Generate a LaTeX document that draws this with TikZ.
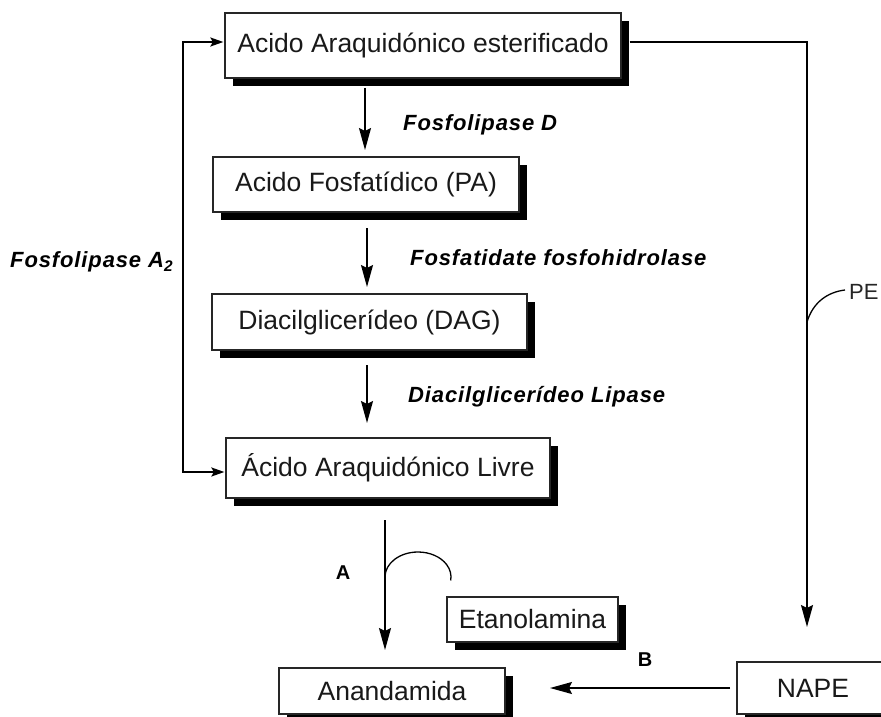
\documentclass[tikz,border=0pt]{standalone}
\usepackage{fontspec}
\setmainfont{Liberation Sans}
\usetikzlibrary{arrows.meta,shadows}
\begin{document}
\begin{tikzpicture}[x=1pt,y=-1pt,
  box/.style={draw=black!85, line width=1.3pt, fill=white, inner sep=0pt,
    text=black!90, font=\fontsize{26.5}{30}\selectfont,
    drop shadow={shadow xshift=8pt, shadow yshift=-8pt, fill=black, opacity=1}},
  enz/.style={anchor=west, inner sep=0pt,
    font=\fontsize{22}{26}\selectfont\bfseries\itshape\addfontfeatures{LetterSpace=4}},
  tag/.style={inner sep=0pt, font=\fontsize{20}{24}\selectfont\bfseries},
  conn/.style={line width=1.7pt, draw=black},
  arr/.style={conn, -{Stealth[length=22pt,width=12pt,inset=3pt]}},
  sarr/.style={conn, {Stealth[length=13pt,width=9pt,inset=2.5pt]}-{Stealth[length=13pt,width=9pt,inset=2.5pt]}}
]
\useasboundingbox (0,0) rectangle (881,717);
\clip (0,0) rectangle (881,717);

% boxes
\node[box, minimum width=396pt, minimum height=65pt] (b1) at (423,45.5) {Acido Araquidónico esterificado};
\node[box, minimum width=306pt, minimum height=55pt] (b2) at (366,184.5) {Acido Fosfatídico (PA)};
\node[box, minimum width=315pt, minimum height=56pt] (b3) at (369.5,322) {Diacilglicerídeo (DAG)};
\node[box, minimum width=324pt, minimum height=60pt] (b4) at (388,468) {Ácido Araquidónico Livre};
\node[box, minimum width=171pt, minimum height=45pt] (eta) at (532.5,619.5) {Etanolamina};
\node[box, minimum width=226pt, minimum height=46pt] (ana) at (392,691) {Anandamida};
\node[box, minimum width=152pt, minimum height=52pt] (nape) at (813,688) {NAPE};

% enzyme labels
\node[enz] (e1) at (403,125) {Fosfolipase D};
\node[enz] (e2) at (410,258) {Fosfatidate fosfohidrolase};
\node[enz] (e3) at (408,397) {Diacilglicerídeo Lipase};
\node[enz] (e4) at (10,262) {Fosfolipase A\textsubscript{2}};
\node[tag] (la) at (343,573) {A};
\node[tag] (lb) at (645,660) {B};
\node[anchor=west, inner sep=0pt, font=\fontsize{22}{26}\selectfont, text=black!85] (pe) at (849,292) {PE};

% main chain arrows
\coordinate (a1s) at (365,88);  \coordinate (a1e) at (365,150);
\coordinate (a2s) at (367,228); \coordinate (a2e) at (367,287);
\coordinate (a3s) at (367,365); \coordinate (a3e) at (367,423);
\coordinate (a4s) at (385,520); \coordinate (a4e) at (385,650);
\draw[arr] (a1s) -- (a1e);
\draw[arr] (a2s) -- (a2e);
\draw[arr] (a3s) -- (a3e);
\draw[arr] (a4s) -- (a4e);

% ethanolamine arc
\draw[line width=1.3pt] (385,577) arc[start angle=180, end angle=368, x radius=33, y radius=25];

% left loop (Fosfolipase A2)
\coordinate (lt) at (183,42);
\coordinate (lb2) at (183,472);
\draw[sarr, shorten <=1pt, shorten >=1pt] ([yshift=3.5pt]b1.west) -- (lt) -- (lb2) -- ([yshift=-4pt]b4.west);

% right path to NAPE
\coordinate (rt) at (807,42);
\coordinate (rb) at (807,627);
\draw[arr] ([xshift=8pt,yshift=3.5pt]b1.east) -- (rt) -- (rb);
\draw[line width=1.3pt] (807,322) .. controls (813,302) and (828,292) .. (845,290);

% NAPE -> Anandamida
\coordinate (bs) at (730,688);
\coordinate (be) at (550,688);
\draw[arr] (bs) -- (be);
\end{tikzpicture}
\end{document}
